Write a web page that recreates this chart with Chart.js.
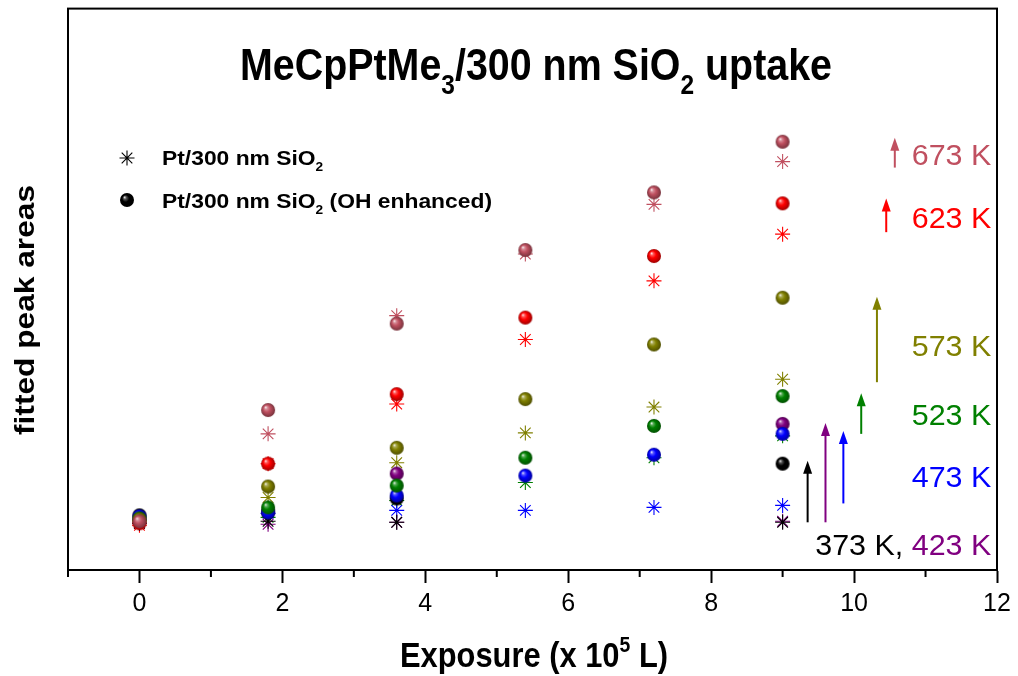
<!DOCTYPE html>
<html>
<head>
<meta charset="utf-8">
<title>MeCpPtMe3/300 nm SiO2 uptake</title>
<script src="https://cdn.jsdelivr.net/npm/chart.js"></script>
<style>
  html, body { margin: 0; padding: 0; background: #fff; }
</style>
</head>
<body>
<canvas id="uptakeChart" width="1018" height="676"></canvas>
<script>
// exposure steps (x 10^5 L)
const exposure = [0, 1.8, 3.6, 5.4, 7.2, 9.0];

const temps = ['373 K', '423 K', '473 K', '523 K', '573 K', '623 K', '673 K'];
const colors = ['#000000', '#800080', '#0000ff', '#008000', '#808000', '#ff0000', '#c05060'];

// fitted peak areas (arb. units), Pt/300 nm SiO2
const plain373 = [4.7, 4.9, 4.8, null, null, 4.8];
const plain423 = [4.7, 4.6, 4.8, null, null, 4.9];
const plain473 = [5.1, 5.7, 6.0, 6.0, 6.3, 6.5];
const plain523 = [5.0, 5.3, 7.0, 8.8, 11.3, 13.5];
const plain573 = [4.9, 7.3, 10.8, 13.8, 16.4, 19.2];
const plain623 = [4.5, 10.7, 16.7, 23.2, 29.1, 33.8];
const plain673 = [4.8, 13.7, 25.6, 31.8, 36.8, 41.1];

// fitted peak areas (arb. units), Pt/300 nm SiO2 (OH enhanced)
const oh373 = [5.5, 5.8, 7.2, null, null, 10.7];
const oh423 = [5.3, 5.9, 9.7, null, null, 14.7];
const oh473 = [5.4, 5.8, 7.5, 9.5, 11.6, 13.7];
const oh523 = [5.2, 6.3, 8.5, 11.3, 14.5, 17.5];
const oh573 = [5.1, 8.4, 12.3, 17.2, 22.7, 27.4];
const oh623 = [4.7, 10.7, 17.7, 25.4, 31.6, 36.9];
const oh673 = [4.9, 16.1, 24.8, 32.2, 38.0, 43.1];

// enhancement arrows at 9 x 10^5 L, one per temperature
const arrowX = [9.35, 9.6, 9.85, 10.1, 10.32, 10.45, 10.57];
const arrowFrom = [4.8, 4.8, 6.7, 13.7, 18.9, 34.0, 40.5];
const arrowTo = [11.0, 14.8, 14.0, 17.8, 27.5, 37.4, 43.5];

// temperature labels on the right (473 K .. 673 K), plus the shared 373/423 one
const labelX = 11.92;
const labelY = [null, null, 9.4, 15.6, 22.5, 35.4, 41.8];
const lowLabelY = 2.5;

const majorTicks = [0, 2, 4, 6, 8, 10, 12];
const minorTicks = [-1, 1, 3, 5, 7, 9, 11];

const plainSets = [plain373, plain423, plain473, plain523, plain573, plain623, plain673];
const ohSets = [oh373, oh423, oh473, oh523, oh573, oh623, oh673];

const FAMILY = "'Liberation Sans', Arial, sans-serif";

function shade(hex, f) {
  const n = parseInt(hex.slice(1), 16);
  const r = (n >> 16) & 255, g = (n >> 8) & 255, b = n & 255;
  const m = v => Math.round(f >= 1 ? v + (255 - v) * (f - 1) : v * f);
  return `rgb(${m(r)},${m(g)},${m(b)})`;
}

// shaded ball used as point marker
function sphere(color, r) {
  const c = document.createElement('canvas');
  const s = 2 * r + 2;
  c.width = s; c.height = s;
  const g = c.getContext('2d');
  const cx = s / 2, cy = s / 2;
  const grad = g.createRadialGradient(cx - r * 0.38, cy - r * 0.42, 0, cx, cy, r);
  grad.addColorStop(0, 'rgba(255,255,255,0.95)');
  grad.addColorStop(0.22, shade(color, 1.35));
  grad.addColorStop(0.5, color);
  grad.addColorStop(1, shade(color, 0.62));
  g.fillStyle = grad;
  g.beginPath();
  g.arc(cx, cy, r, 0, Math.PI * 2);
  g.fill();
  return c;
}

const balls = colors.map(c => sphere(c, 7));

const toPoints = vals => exposure.map((x, i) => ({ x: x, y: vals[i] })).filter(p => p.y !== null);

const datasets = [];
plainSets.forEach((vals, i) => {
  datasets.push({
    label: 'Pt/300 nm SiO2 ' + temps[i],
    data: toPoints(vals),
    pointStyle: 'star',
    pointRadius: 7.5,
    borderWidth: 1.1,
    borderColor: colors[i],
    backgroundColor: colors[i],
    order: 20 + i
  });
});
ohSets.forEach((vals, i) => {
  datasets.push({
    label: 'Pt/300 nm SiO2 (OH enhanced) ' + temps[i],
    data: toPoints(vals),
    pointStyle: balls[i],
    pointRadius: 7,
    borderColor: colors[i],
    backgroundColor: colors[i],
    order: 10 - i
  });
});

// text with sub/superscript pieces, optionally squeezed to a given width; returns the x scale used
function drawRuns(ctx, runs, o) {
  ctx.save();
  const fontFor = r => `${o.bold ? 'bold ' : ''}${(r.sub || r.sup) ? Math.round(o.size * 0.62) : o.size}px ${FAMILY}`;
  const widths = runs.map(r => { ctx.font = fontFor(r); return ctx.measureText(r.t).width; });
  const total = widths.reduce((a, b) => a + b, 0);
  const sx = o.width ? o.width / total : (o.sx || 1);
  ctx.translate(o.x, o.y);
  if (o.rotate) ctx.rotate(o.rotate);
  ctx.scale(sx, 1);
  let cx = o.align === 'left' ? 0 : o.align === 'right' ? -total : -total / 2;
  ctx.textAlign = 'left';
  ctx.textBaseline = 'alphabetic';
  runs.forEach((r, i) => {
    ctx.font = fontFor(r);
    ctx.fillStyle = r.color || o.color || '#000';
    const dy = r.sub ? o.size * 0.3 : r.sup ? -o.size * 0.42 : 0;
    ctx.fillText(r.t, cx, dy);
    cx += widths[i];
  });
  ctx.restore();
  return sx;
}

function drawStar(ctx, x, y, r, color) {
  const d = r * Math.cos(Math.PI / 4);
  ctx.save();
  ctx.strokeStyle = color;
  ctx.lineWidth = 1.1;
  ctx.beginPath();
  ctx.moveTo(x - r, y); ctx.lineTo(x + r, y);
  ctx.moveTo(x, y - r); ctx.lineTo(x, y + r);
  ctx.moveTo(x - d, y - d); ctx.lineTo(x + d, y + d);
  ctx.moveTo(x - d, y + d); ctx.lineTo(x + d, y - d);
  ctx.stroke();
  ctx.restore();
}

const decor = {
  id: 'decor',
  afterDraw(chart) {
    const ctx = chart.ctx;
    const a = chart.chartArea;
    const xs = chart.scales.x, ys = chart.scales.y;

    // frame and minor ticks
    ctx.save();
    ctx.strokeStyle = '#000';
    ctx.lineWidth = 2;
    ctx.strokeRect(a.left, a.top, a.right - a.left, a.bottom - a.top);
    ctx.beginPath();
    minorTicks.forEach(v => {
      const px = xs.getPixelForValue(v);
      ctx.moveTo(px, a.bottom);
      ctx.lineTo(px, a.bottom + 7);
    });
    ctx.stroke();
    ctx.restore();

    // arrows
    arrowX.forEach((xv, i) => {
      const px = xs.getPixelForValue(xv);
      const y0 = ys.getPixelForValue(arrowFrom[i]);
      const y1 = ys.getPixelForValue(arrowTo[i]);
      ctx.save();
      ctx.strokeStyle = colors[i];
      ctx.fillStyle = colors[i];
      ctx.lineWidth = 2;
      ctx.beginPath();
      ctx.moveTo(px, y0);
      ctx.lineTo(px, y1 + 10);
      ctx.stroke();
      ctx.beginPath();
      ctx.moveTo(px, y1);
      ctx.lineTo(px - 4.5, y1 + 13);
      ctx.lineTo(px + 4.5, y1 + 13);
      ctx.closePath();
      ctx.fill();
      ctx.restore();
    });

    // temperature labels
    const lx = xs.getPixelForValue(labelX);
    labelY.forEach((yv, i) => {
      if (yv === null) return;
      drawRuns(ctx, [{ t: temps[i] }], {
        x: lx, y: ys.getPixelForValue(yv) + 10, size: 29, align: 'right', color: colors[i], sx: 1.05
      });
    });
    drawRuns(ctx, [{ t: temps[0] + ', ', color: colors[0] }, { t: temps[1], color: colors[1] }], {
      x: lx, y: ys.getPixelForValue(lowLabelY) + 10, size: 29, align: 'right', sx: 1.05
    });

    // legend
    drawStar(ctx, 127, 158, 7.5, '#000');
    ctx.drawImage(balls[0], 127 - balls[0].width / 2, 200 - balls[0].height / 2);
    const legendSx = drawRuns(ctx, [{ t: 'Pt/300 nm SiO' }, { t: '2', sub: true }, { t: ' (OH enhanced)' }], {
      x: 162, y: 208, size: 20, bold: true, align: 'left', width: 330
    });
    drawRuns(ctx, [{ t: 'Pt/300 nm SiO' }, { t: '2', sub: true }], {
      x: 162, y: 165, size: 20, bold: true, align: 'left', sx: legendSx
    });

    // titles
    drawRuns(ctx, [
      { t: 'MeCpPtMe' }, { t: '3', sub: true }, { t: '/300 nm SiO' }, { t: '2', sub: true }, { t: ' uptake' }
    ], { x: 536, y: 80, size: 45, bold: true, align: 'center', width: 592 });
    drawRuns(ctx, [{ t: 'Exposure (x 10' }, { t: '5', sup: true }, { t: ' L)' }], {
      x: 534, y: 667, size: 35, bold: true, align: 'center', width: 268
    });
    drawRuns(ctx, [{ t: 'fitted peak areas' }], {
      x: 34, y: 310, size: 27, bold: true, align: 'center', rotate: -Math.PI / 2, width: 250
    });
  }
};

new Chart(document.getElementById('uptakeChart'), {
  type: 'scatter',
  data: { datasets: datasets },
  options: {
    responsive: false,
    animation: false,
    events: [],
    layout: { padding: { left: 68, right: 21, top: 2, bottom: 0 } },
    plugins: { legend: { display: false }, tooltip: { enabled: false } },
    scales: {
      x: {
        type: 'linear',
        min: -1,
        max: 12,
        afterBuildTicks(scale) { scale.ticks = majorTicks.map(v => ({ value: v })); },
        afterFit(scale) { scale.height = 106; },
        grid: { drawOnChartArea: false, drawTicks: true, tickLength: 13, tickWidth: 2, tickColor: '#000' },
        border: { display: true, color: '#000', width: 2 },
        ticks: {
          color: '#000',
          padding: 6,
          maxRotation: 0,
          font: { family: "'Liberation Sans Narrow', 'Arial Narrow', 'Liberation Sans', sans-serif", size: 25 }
        }
      },
      y: { display: false, min: 0, max: 56.5 }
    }
  },
  plugins: [decor]
});
</script>
</body>
</html>
